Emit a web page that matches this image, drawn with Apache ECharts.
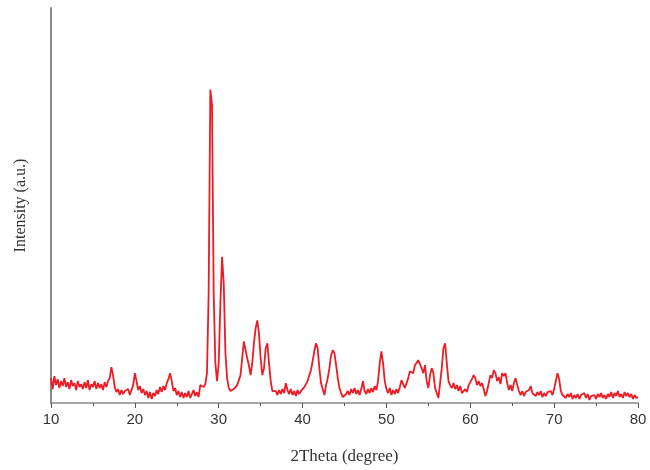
<!DOCTYPE html>
<html>
<head>
<meta charset="utf-8">
<script src="https://cdn.jsdelivr.net/npm/echarts@6/dist/echarts.min.js"></script>
<style>html,body{margin:0;padding:0;background:#fff}#c{width:650px;height:470px}</style>
</head>
<body>
<div id="c"></div>
<script>
// 2Theta sampling: start and step (degrees)
var thetaStart = 10;
var thetaStep = 0.2;
// Intensity (a.u.), one row per degree (5 samples each)
var intensity = [
  25, 14, 27, 18, 24,
  15, 22, 17, 25, 16,
  21, 14, 23, 17, 20,
  13, 22, 16, 19, 14,
  21, 15, 23, 13, 19,
  16, 22, 14, 20, 15,
  19, 13, 21, 16, 22,
  25, 36, 28, 16, 11,
  14, 8, 13, 9, 12,
  10, 14, 8, 13, 18,
  30, 22, 13, 17, 10,
  14, 8, 12, 5, 11,
  4, 10, 7, 13, 9,
  16, 11, 17, 13, 20,
  24, 30, 22, 12, 15,
  8, 12, 6, 11, 5,
  10, 6, 12, 5, 9,
  13, 7, 11, 6, 18,
  20, 16, 19, 30, 110,
  315, 300, 110, 40, 22,
  40, 100, 147, 120, 50,
  25, 15, 12, 10, 14,
  13, 18, 20, 28, 45,
  62, 60, 45, 38, 28,
  40, 60, 75, 83, 70,
  45, 28, 35, 55, 60,
  40, 22, 12, 10, 12,
  8, 13, 9, 14, 10,
  20, 13, 9, 14, 8,
  12, 7, 13, 9, 12,
  12, 16, 14, 22, 28,
  33, 42, 52, 60, 55,
  35, 20, 14, 8, 18,
  25, 35, 48, 53, 50,
  38, 25, 15, 10, 6,
  5, 9, 12, 8, 14,
  10, 15, 9, 13, 8,
  14, 22, 12, 9, 14,
  10, 15, 11, 17, 13,
  22, 40, 52, 40, 22,
  14, 10, 15, 8, 13,
  9, 14, 10, 16, 23,
  22, 15, 20, 25, 32,
  33, 30, 38, 36, 43,
  42, 35, 30, 38, 22,
  15, 28, 35, 30, 15,
  10, 5, 20, 35, 55,
  60, 40, 22, 18, 15,
  20, 14, 18, 12, 17,
  10, 8, 14, 11, 18,
  20, 24, 28, 25, 18,
  22, 17, 20, 14, 7,
  12, 20, 28, 25, 33,
  30, 22, 26, 19, 30,
  27, 30, 20, 13, 18,
  12, 20, 25, 18, 12,
  8, 12, 7, 11, 9,
  13, 17, 10, 12, 7,
  11, 8, 12, 6, 10,
  7, 11, 9, 12, 8,
  14, 22, 30, 24, 12,
  8, 10, 5, 9, 6,
  10, 4, 8, 5, 9,
  4, 8, 6, 10, 5,
  9, 3, 7, 5, 8,
  4, 9, 6, 10, 5,
  8, 4, 9, 6, 11,
  5, 10, 7, 12, 6,
  9, 5, 11, 7, 10,
  6, 9, 4, 8, 5,
  6
];
var xTicks = [10, 20, 30, 40, 50, 60, 70, 80];

var seriesData = intensity.map(function (v, i) {
  return [+(thetaStart + i * thetaStep).toFixed(2), v];
});

var chart = echarts.init(document.getElementById('c'), null, {renderer: 'canvas'});
chart.setOption({
  animation: false,
  backgroundColor: '#ffffff',
  grid: {left: 51, right: 12, top: 8, bottom: 65},
  xAxis: {
    type: 'value',
    min: xTicks[0],
    max: xTicks[xTicks.length - 1],
    interval: 10,
    name: '2Theta (degree)',
    nameLocation: 'middle',
    nameGap: 45,
    nameTextStyle: {fontFamily: 'Liberation Serif', fontSize: 17, color: '#333'},
    axisLine: {show: true, onZero: false, lineStyle: {color: '#8a8a8a', width: 1.5}},
    axisTick: {show: true, inside: false, length: 5, lineStyle: {color: '#555', width: 1}},
    minorTick: {show: true, splitNumber: 2, length: 3, lineStyle: {color: '#555', width: 1}},
    axisLabel: {fontFamily: 'Liberation Sans', fontSize: 15, color: '#333', margin: 9},
    splitLine: {show: false}
  },
  yAxis: {
    type: 'value',
    min: 0,
    max: 397,
    name: 'Intensity (a.u.)',
    nameLocation: 'middle',
    nameRotate: 90,
    nameGap: 22,
    nameTextStyle: {fontFamily: 'Liberation Serif', fontSize: 16, color: '#333'},
    axisLine: {show: true, lineStyle: {color: '#8a8a8a', width: 2}},
    axisTick: {show: false},
    axisLabel: {show: false},
    splitLine: {show: false}
  },
  series: [{
    type: 'line',
    data: seriesData,
    showSymbol: false,
    symbol: 'none',
    lineStyle: {color: '#ec1c24', width: 1.8},
    itemStyle: {color: '#ec1c24'}
  }]
});
</script>
</body>
</html>
